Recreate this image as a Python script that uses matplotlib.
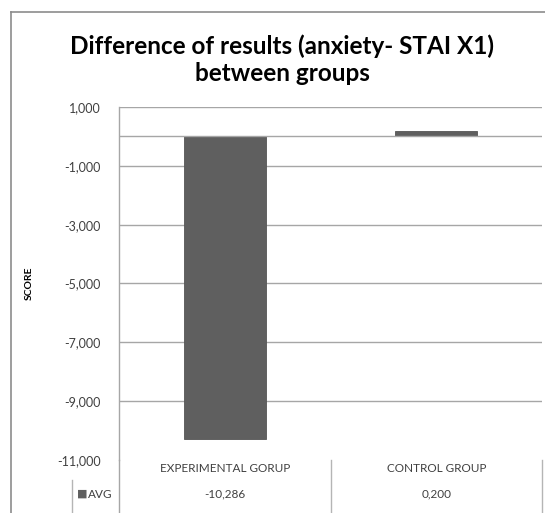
import numpy as np
import matplotlib.pyplot as plt
from matplotlib.lines import Line2D

# dados do gráfico
grupos = ["EXPERIMENTAL GORUP", "CONTROL GROUP"]
media = [-10.286, 0.200]
serie = "AVG"
titulo = "Difference of results (anxiety- STAI X1)\nbetween groups"

def fmt(v):
    # vírgula como separador decimal
    return f"{v:.3f}".replace(".", ",")

plt.rcParams['font.family'] = ['Lato', 'DejaVu Sans']

W, H = 545, 513
fig = plt.figure(figsize=(W / 100, H / 100), dpi=100)

def fx(px):
    return px / W

def fy(py):
    return 1 - py / H

# moldura do gráfico
fig.add_artist(Line2D([fx(11), fx(W)], [fy(12), fy(12)], color='#8c8c8c', lw=1.2))
fig.add_artist(Line2D([fx(11), fx(11)], [fy(12), 0], color='#8c8c8c', lw=1.2))

fig.text(fx(282), fy(60), titulo, ha='center', va='center', fontsize=17.5,
         fontweight='bold', color='black', linespacing=1.2)

left, right, top, bottom = 119, 542, 107, 460
ax = fig.add_axes([fx(left), fy(bottom), fx(right - left), (bottom - top) / H])

x = np.arange(len(grupos))
ax.bar(x, media, width=0.39, color='#5f5f5f', edgecolor='#555555', lw=0.6, zorder=3)
ax.set_xlim(-0.5, 1.5)
ax.set_ylim(-11, 1)

ticks = np.arange(-11, 1.5, 2)
ax.set_yticks(ticks)
ax.set_yticklabels([fmt(t) for t in ticks], fontsize=9, color='#404040')
for t in ticks[1:]:
    ax.axhline(t, color='#a6a6a6', lw=1, zorder=1)
ax.axhline(0, color='#a6a6a6', lw=1, zorder=4)
ax.tick_params(axis='y', length=0, pad=13)
ax.set_xticks([])
for s in ['top', 'right', 'bottom']:
    ax.spines[s].set_visible(False)
ax.spines['left'].set_color('#a6a6a6')
ax.spines['left'].set_linewidth(1)
ax.patch.set_alpha(0)

fig.text(fx(29), fy(283), "SCORE", rotation=90, ha='center', va='center',
         fontsize=7.5, fontweight='bold', color='black')

# tabela de dados abaixo do eixo
cat_w = (right - left) / len(grupos)
sep_color = '#b5b5b5'
fig.add_artist(Line2D([fx(left), fx(left)], [fy(bottom), 0], color='#a6a6a6', lw=1))
for i in range(1, len(grupos) + 1):
    xs = left + i * cat_w
    fig.add_artist(Line2D([fx(xs), fx(xs)], [fy(bottom), 0], color=sep_color, lw=1))
fig.add_artist(Line2D([fx(72), fx(72)], [fy(480), 0], color=sep_color, lw=1))

for i, (g, v) in enumerate(zip(grupos, media)):
    cx = left + (i + 0.5) * cat_w
    fig.text(fx(cx), fy(468), g, ha='center', va='center', fontsize=8.5, color='#404040')
    fig.text(fx(cx), fy(494), fmt(v), ha='center', va='center', fontsize=8.5, color='#404040')

fig.text(fx(77), fy(494), "\u25a0", ha='left', va='center', fontsize=8, color='#5f5f5f',
         family=['DejaVu Sans'])
fig.text(fx(88), fy(494), serie, ha='left', va='center', fontsize=8.5, color='#404040')

fig.savefig("out.png", dpi=100, facecolor='white')
